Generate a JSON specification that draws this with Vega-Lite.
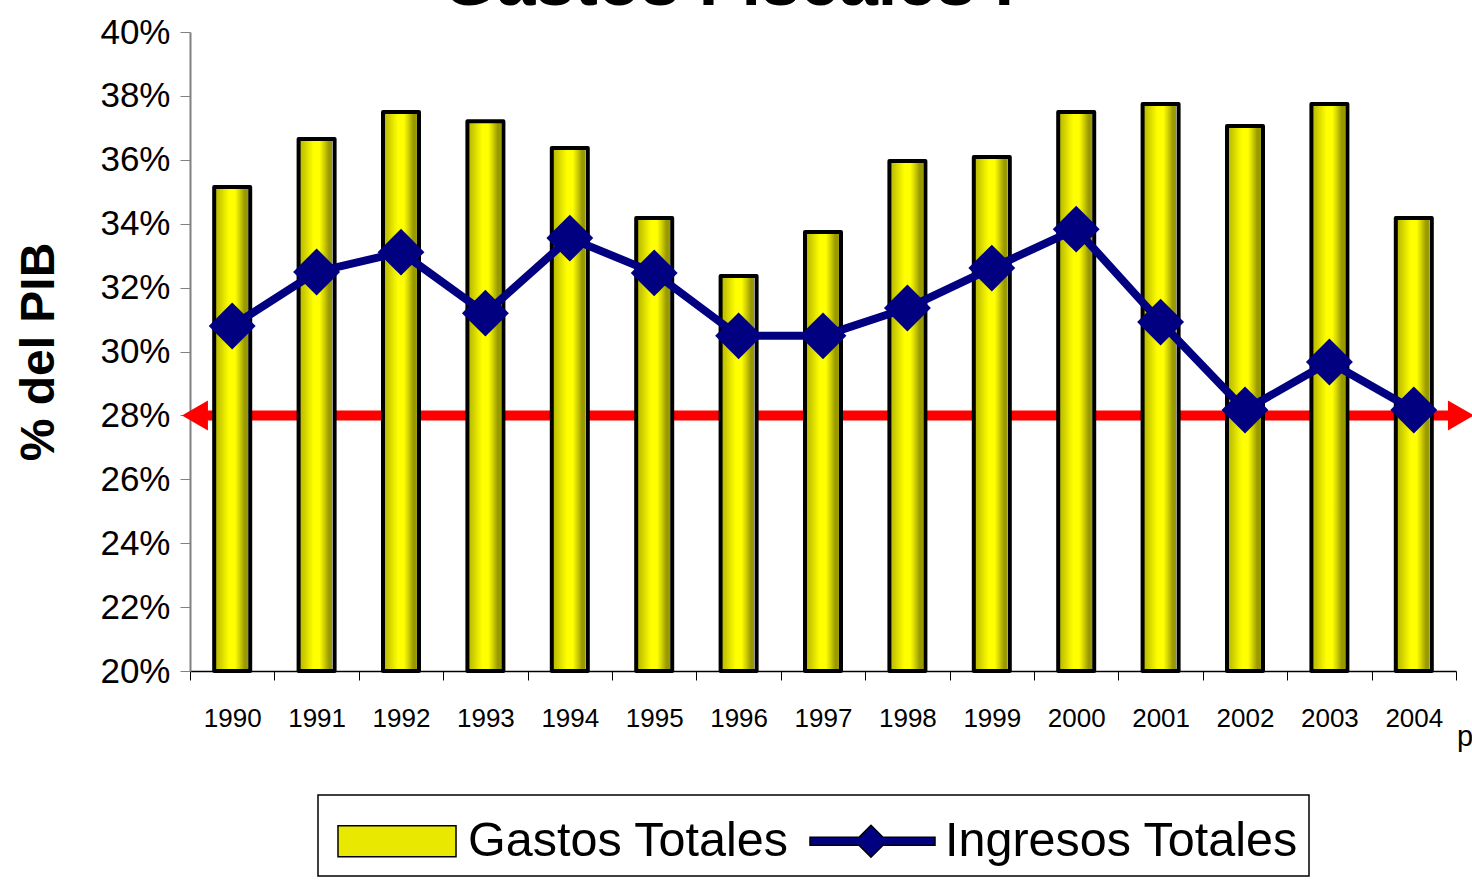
{
  "$schema": "https://vega.github.io/schema/vega-lite/v6.json",
  "autosize": {"type": "none"},
  "width": 1266,
  "height": 639,
  "padding": {"left": 190, "top": 32, "right": 16, "bottom": 217},
  "background": "#ffffff",
  "data": {
    "values": [
      {"year": "1990", "gastos": 0.3515, "ingresos": 0.308},
      {"year": "1991", "gastos": 0.3665, "ingresos": 0.3249},
      {"year": "1992", "gastos": 0.375, "ingresos": 0.3311},
      {"year": "1993", "gastos": 0.3721, "ingresos": 0.312},
      {"year": "1994", "gastos": 0.3637, "ingresos": 0.3355},
      {"year": "1995", "gastos": 0.3418, "ingresos": 0.3246},
      {"year": "1996", "gastos": 0.3236, "ingresos": 0.3049},
      {"year": "1997", "gastos": 0.3374, "ingresos": 0.3049},
      {"year": "1998", "gastos": 0.3596, "ingresos": 0.3136},
      {"year": "1999", "gastos": 0.3609, "ingresos": 0.3261},
      {"year": "2000", "gastos": 0.375, "ingresos": 0.3383},
      {"year": "2001", "gastos": 0.3775, "ingresos": 0.3092},
      {"year": "2002", "gastos": 0.3706, "ingresos": 0.2817},
      {"year": "2003", "gastos": 0.3775, "ingresos": 0.2967},
      {"year": "2004", "gastos": 0.3418, "ingresos": 0.2817}
    ]
  },
  "resolve": {"scale": {"x": "independent"}},
  "layer": [
    {
      "data": {"values": [{}]},
      "mark": {"type": "rule", "color": "#ff0000", "strokeWidth": 10},
      "encoding": {
        "x": {"datum": 0.0039, "type": "quantitative", "scale": {"domain": [0, 1], "nice": false, "zero": false}, "axis": null},
        "x2": {"datum": 1.0039},
        "y": {"datum": 0.28, "type": "quantitative", "title": "% del PIB", "scale": {"domain": [0.2, 0.4], "nice": false, "zero": false}}
      }
    },
    {
      "data": {"values": [{}]},
      "mark": {"type": "point", "shape": "triangle-left", "size": 900, "filled": true, "color": "#ff0000", "opacity": 1},
      "encoding": {
        "x": {"datum": 0.0039, "type": "quantitative", "scale": {"domain": [0, 1], "nice": false, "zero": false}, "axis": null},
        "y": {"datum": 0.28, "type": "quantitative", "title": "% del PIB", "scale": {"domain": [0.2, 0.4], "nice": false, "zero": false}}
      }
    },
    {
      "data": {"values": [{}]},
      "mark": {"type": "point", "shape": "triangle-right", "size": 900, "filled": true, "color": "#ff0000", "opacity": 1},
      "encoding": {
        "x": {"datum": 1.0039, "type": "quantitative", "scale": {"domain": [0, 1], "nice": false, "zero": false}, "axis": null},
        "y": {"datum": 0.28, "type": "quantitative", "title": "% del PIB", "scale": {"domain": [0.2, 0.4], "nice": false, "zero": false}}
      }
    },
    {
      "data": {"values": [{}]},
      "mark": {"type": "text", "text": "p", "font": "Liberation Sans", "fontSize": 29, "align": "left", "baseline": "alphabetic", "color": "#000000"},
      "encoding": {
        "x": {"datum": 1.0008, "type": "quantitative", "scale": {"domain": [0, 1], "nice": false, "zero": false}, "axis": null},
        "y": {"datum": 0.1765, "type": "quantitative", "title": "% del PIB", "scale": {"domain": [0.2, 0.4], "nice": false, "zero": false}}
      }
    },
    {
      "data": {"values": [{}]},
      "mark": {"type": "text", "text": "Gastos Fiscales I", "font": "Liberation Sans", "fontSize": 70, "fontWeight": "bold", "align": "center", "baseline": "alphabetic", "color": "#000000"},
      "encoding": {
        "x": {"datum": 0.425, "type": "quantitative", "scale": {"domain": [0, 1], "nice": false, "zero": false}, "axis": null},
        "y": {"datum": 0.40845, "type": "quantitative", "title": "% del PIB", "scale": {"domain": [0.2, 0.4], "nice": false, "zero": false}}
      }
    },
    {
      "mark": {
        "type": "bar",
        "size": 36,
        "stroke": "#000000",
        "strokeWidth": 4,
        "strokeJoin": "round",
        "fill": {
          "gradient": "linear", "x1": 0, "x2": 1, "y1": 0, "y2": 0,
          "stops": [
            {"offset": 0, "color": "#b4b400"},
            {"offset": 0.15, "color": "#cccc00"},
            {"offset": 0.3, "color": "#eaea00"},
            {"offset": 0.42, "color": "#ffff00"},
            {"offset": 0.58, "color": "#ffff00"},
            {"offset": 0.7, "color": "#d4d400"},
            {"offset": 0.84, "color": "#9a9a00"},
            {"offset": 0.93, "color": "#999900"},
            {"offset": 0.94, "color": "#ffffff"},
            {"offset": 1, "color": "#ffffff"}
          ]
        }
      },
      "encoding": {
        "x": {"field": "year", "type": "ordinal", "title": null, "scale": {"type": "band", "paddingInner": 0, "paddingOuter": 0}},
        "y": {"field": "gastos", "type": "quantitative", "title": "% del PIB", "scale": {"domain": [0.2, 0.4], "nice": false, "zero": false}, "axis": {"values": [0.2, 0.22, 0.24, 0.26, 0.28, 0.3, 0.32, 0.34, 0.36, 0.38, 0.4], "title": "% del PIB"}},
        "y2": {"datum": 0.2}
      }
    },
    {
      "mark": {"type": "line", "strokeWidth": 8, "strokeJoin": "round", "color": "#000080"},
      "encoding": {
        "x": {"field": "year", "type": "ordinal", "axis": null, "scale": {"type": "band", "paddingInner": 0, "paddingOuter": 0}},
        "y": {"field": "ingresos", "type": "quantitative", "title": "% del PIB", "scale": {"domain": [0.2, 0.4], "nice": false, "zero": false}}
      }
    },
    {
      "mark": {"type": "point", "shape": "diamond", "size": 2200, "filled": true, "opacity": 1, "color": "#000080"},
      "encoding": {
        "x": {"field": "year", "type": "ordinal", "axis": null, "scale": {"type": "band", "paddingInner": 0, "paddingOuter": 0}},
        "y": {"field": "ingresos", "type": "quantitative", "title": "% del PIB", "scale": {"domain": [0.2, 0.4], "nice": false, "zero": false}}
      }
    },
    {
      "mark": {"type": "point", "filled": true, "opacity": 0, "stroke": "#000000", "strokeWidth": 3.5},
      "encoding": {
        "x": {"field": "year", "type": "ordinal", "axis": null, "scale": {"type": "band", "paddingInner": 0, "paddingOuter": 0}},
        "y": {"field": "gastos", "type": "quantitative", "title": "% del PIB", "scale": {"domain": [0.2, 0.4], "nice": false, "zero": false}},
        "color": {
          "datum": "Gastos Totales",
          "scale": {"domain": ["Gastos Totales", "Ingresos Totales"], "range": ["#e8e800", "#000080"]},
          "legend": {
            "orient": "none", "direction": "horizontal", "legendX": 128, "legendY": 763, "title": null,
            "padding": 10, "strokeColor": "#000000", "symbolSize": 4900, "symbolOpacity": 1,
            "labelFont": "Liberation Sans", "labelFontSize": 48.5, "labelColor": "#000000",
            "labelOffset": 68, "labelLimit": 600, "columnPadding": 16
          }
        },
        "shape": {
          "datum": "Gastos Totales",
          "scale": {
            "domain": ["Gastos Totales", "Ingresos Totales"],
            "range": [
              "M-0.743,-0.443L2.629,-0.443L2.629,0.443L-0.743,0.443Z",
              "M-0.886,-0.114L0.514,-0.114L0.857,-0.457L1.2,-0.114L2.686,-0.114L2.686,0.114L1.2,0.114L0.857,0.457L0.514,0.114L-0.886,0.114Z"
            ]
          },
          "legend": {
            "orient": "none", "direction": "horizontal", "legendX": 128, "legendY": 763, "title": null,
            "padding": 10, "strokeColor": "#000000", "symbolSize": 4900, "symbolOpacity": 1,
            "labelFont": "Liberation Sans", "labelFontSize": 48.5, "labelColor": "#000000",
            "labelOffset": 68, "labelLimit": 600, "columnPadding": 16
          }
        }
      }
    },
    {
      "mark": {"type": "point", "filled": true, "opacity": 0, "stroke": "#000000", "strokeWidth": 3.5},
      "encoding": {
        "x": {"field": "year", "type": "ordinal", "axis": null, "scale": {"type": "band", "paddingInner": 0, "paddingOuter": 0}},
        "y": {"field": "ingresos", "type": "quantitative", "title": "% del PIB", "scale": {"domain": [0.2, 0.4], "nice": false, "zero": false}},
        "color": {"datum": "Ingresos Totales"},
        "shape": {"datum": "Ingresos Totales"}
      }
    }
  ],
  "config": {
    "view": {"stroke": null},
    "axis": {
      "labelFont": "Liberation Sans",
      "titleFont": "Liberation Sans",
      "labelColor": "#000000",
      "titleColor": "#000000",
      "grid": false,
      "domainColor": "#000000",
      "tickColor": "#000000"
    },
    "legend": {"strokeWidth": 1.5},
    "axisY": {
      "labelFontSize": 35,
      "tickSize": 10,
      "labelPadding": 10,
      "titleFontSize": 48,
      "titleFontWeight": "bold",
      "titlePadding": 36,
      "domainColor": "#808080",
      "tickColor": "#808080",
      "domainWidth": 2,
      "format": ".0%"
    },
    "axisX": {
      "labelFontSize": 26,
      "labelAngle": 0,
      "tickBand": "extent",
      "tickSize": 9,
      "labelPadding": 25,
      "domainWidth": 1.5
    }
  }
}
